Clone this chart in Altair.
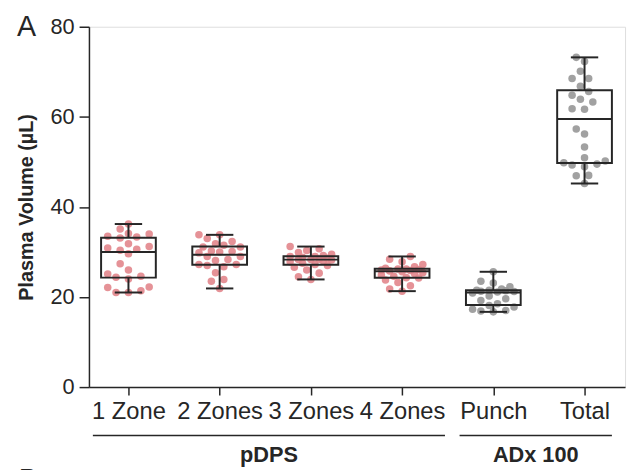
import json
import altair as alt
import pandas as pd

categories = ["1 Zone", "2 Zones", "3 Zones", "4 Zones", "Punch", "Total"]
families = ["pDPS", "pDPS", "pDPS", "pDPS", "ADx 100", "ADx 100"]

zone1 = [21.0, 21.0, 21.4, 22.1, 22.2, 24.0, 24.4, 24.6, 25.1, 26.0, 27.4, 29.6,
         30.4, 30.6, 30.9, 31.2, 31.8, 33.1, 33.3, 33.5, 34.0, 34.1, 35.1, 36.2]
zone2 = [21.9, 23.5, 23.9, 25.4, 26.7, 27.0, 27.2, 27.2, 28.1, 28.3, 29.0, 29.0,
         29.8, 30.0, 30.1, 30.2, 31.1, 31.1, 31.5, 31.8, 32.3, 33.0, 33.8, 33.8]
zone3 = [23.9, 24.5, 25.3, 26.0, 26.6, 27.0, 27.2, 27.5, 27.8, 28.0, 28.2, 28.3,
         28.3, 28.4, 28.6, 28.8, 29.0, 29.0, 29.2, 29.5, 29.9, 30.3, 30.7, 31.2]
zone4 = [21.3, 21.8, 22.5, 23.2, 23.8, 24.2, 24.3, 24.6, 24.9, 25.2, 25.4, 25.6,
         25.8, 25.9, 26.0, 26.1, 26.2, 26.2, 26.4, 26.7, 27.2, 27.8, 28.4, 29.0]
punch = [16.7, 16.9, 17.0, 17.3, 17.8, 18.1, 18.5, 19.2, 19.6, 20.2, 20.9, 21.1,
         21.2, 21.3, 21.4, 21.5, 21.5, 21.8, 22.3, 23.1, 23.5, 25.6]
total = [45.2, 46.9, 47.0, 48.9, 49.3, 49.5, 49.8, 50.2, 50.9, 53.3, 56.2, 57.3,
         61.7, 61.8, 63.3, 63.9, 64.8, 65.6, 66.8, 68.5, 68.5, 70.1, 72.3, 73.2]
series = [zone1, zone2, zone3, zone4, punch, total]

y_ticks = [0, 20, 40, 60, 80]
group_names = ["pDPS", "ADx 100"]
group_first = [0, 4]
group_last = [3, 5]

# --- layout / style constants
W, H = 543, 365
X_DOMAIN = [-0.433, 5.444]
PX_PER_X = W / (X_DOMAIN[1] - X_DOMAIN[0])
PX_PER_Y = H / 80.0
FONT = "Liberation Sans"
PINK = "#e2868c"
GREY = "#979797"
INK = "#262626"
GROUP_PAD_L = [0.39, 0.37]   # underline start, relative to first category
GROUP_PAD_R = [0.47, 0.30]   # underline end, relative to last category


def swarm(values, d=9.0, step=4.2, max_off=25.0):
    """Deterministic, width-limited beeswarm offsets (pixels) for one group."""
    placed = []
    out = {}
    nmax = int(max_off // step)
    cands = [0.0]
    for k in range(1, nmax + 1):
        cands += [-k * step, k * step]
    order = sorted(range(len(values)), key=lambda i: values[i])
    for i in order:
        yp = values[i] * PX_PER_Y
        best, best_d = None, -1.0
        for cx in cands:
            md = min([((cx - ox) ** 2 + (yp - oy) ** 2) ** 0.5 for ox, oy in placed] or [1e9])
            if md >= d:
                best = cx
                break
            if md > best_d:
                best, best_d = cx, md
        placed.append((best, yp))
        out[i] = best
    return [out[i] for i in range(len(values))]


rows = []
for gi, (cat, vals) in enumerate(zip(categories, series)):
    offs = swarm(vals)
    for v, o in zip(vals, offs):
        rows.append({"cat": cat, "idx": gi, "family": families[gi],
                     "value": v, "xpos": gi + o / PX_PER_X})
pts = pd.DataFrame(rows)

groups = pd.DataFrame({"name": group_names, "first": group_first, "last": group_last,
                       "pl": GROUP_PAD_L, "pr": GROUP_PAD_R})

xscale = alt.Scale(domain=X_DOMAIN, nice=False, zero=False)
yscale = alt.Scale(domain=[0, 80], nice=False)

label_expr = json.dumps(categories) + "[datum.value]"

x_axis = alt.Axis(values=list(range(len(categories))), labelExpr=label_expr, title=None,
                  grid=False, tickSize=8, labelFontSize=24, labelPadding=5,
                  labelFont=FONT, labelColor=INK, domainColor=INK, tickColor=INK,
                  domainWidth=1.5, tickWidth=1.5, labelFlush=False, labelOverlap=False)
y_axis = alt.Axis(values=y_ticks, title="Plasma Volume (µL)", grid=False, tickSize=10,
                  labelFontSize=22, labelPadding=5, labelFont=FONT, labelColor=INK,
                  titleFont=FONT, titleFontSize=20, titleFontWeight="bold",
                  titleColor=INK, titlePadding=14, domainColor=INK, tickColor=INK,
                  domainWidth=1.5, tickWidth=1.5)

base_pts = alt.Chart(pts)

points = base_pts.mark_circle(size=58, opacity=0.9).encode(
    x=alt.X("xpos:Q", scale=xscale, axis=x_axis),
    y=alt.Y("value:Q", scale=yscale, axis=y_axis),
    color=alt.Color("family:N", scale=alt.Scale(domain=["pDPS", "ADx 100"], range=[PINK, GREY]),
                    legend=None),
)

stats = base_pts.transform_aggregate(
    lo="min(value)", hi="max(value)", q1="q1(value)", q3="q3(value)", med="median(value)",
    groupby=["idx"],
).transform_calculate(
    bl="datum.idx - 0.30", br="datum.idx + 0.30",
    cl="datum.idx - 0.15", cr="datum.idx + 0.15",
)

whisk_lo = stats.mark_rule(color=INK, strokeWidth=2).encode(
    x=alt.X("idx:Q", scale=xscale), y=alt.Y("lo:Q", scale=yscale), y2="q1:Q")
whisk_hi = stats.mark_rule(color=INK, strokeWidth=2).encode(
    x=alt.X("idx:Q", scale=xscale), y=alt.Y("q3:Q", scale=yscale), y2="hi:Q")
box = stats.mark_rect(fill=None, fillOpacity=0, stroke=INK, strokeWidth=2).encode(
    x=alt.X("bl:Q", scale=xscale), x2="br:Q",
    y=alt.Y("q1:Q", scale=yscale), y2="q3:Q")
median = stats.mark_rule(color=INK, strokeWidth=2).encode(
    x=alt.X("bl:Q", scale=xscale), x2="br:Q", y=alt.Y("med:Q", scale=yscale))
cap_lo = stats.mark_rule(color=INK, strokeWidth=2).encode(
    x=alt.X("cl:Q", scale=xscale), x2="cr:Q", y=alt.Y("lo:Q", scale=yscale))
cap_hi = stats.mark_rule(color=INK, strokeWidth=2).encode(
    x=alt.X("cl:Q", scale=xscale), x2="cr:Q", y=alt.Y("hi:Q", scale=yscale))

gbase = alt.Chart(groups).transform_calculate(
    gl="datum.first - datum.pl", gr="datum.last + datum.pr",
    gm="(datum.first - datum.pl + datum.last + datum.pr) / 2")
glines = gbase.mark_rule(color=INK, strokeWidth=1.5).encode(
    x=alt.X("gl:Q", scale=xscale), x2="gr:Q", y=alt.value(H + 49))
gtext = gbase.mark_text(font=FONT, fontSize=22, fontWeight="bold", color=INK,
                        baseline="top").encode(
    x=alt.X("gm:Q", scale=xscale), y=alt.value(H + 59), text="name:N")

letters = pd.DataFrame({"t": ["A", "B"], "px": [-73, -71], "py": [-14, H + 80]})
panel = alt.Chart(letters).mark_text(font=FONT, fontSize=29, color=INK, align="left",
                                     baseline="top").encode(
    x=alt.X("px:Q", scale=None), y=alt.Y("py:Q", scale=None), text="t:N")

chart = alt.layer(points, whisk_lo, whisk_hi, box, median, cap_lo, cap_hi,
                  glines, gtext, panel).properties(
    width=W, height=H,
    autosize=alt.AutoSizeParams(type="none"),
    padding={"left": 82, "top": 16, "right": 3, "bottom": 81},
).configure_view(stroke=INK, strokeWidth=1.5).configure(background="white")

chart.save("out.html", embed_options={"renderer": "svg", "actions": False})
